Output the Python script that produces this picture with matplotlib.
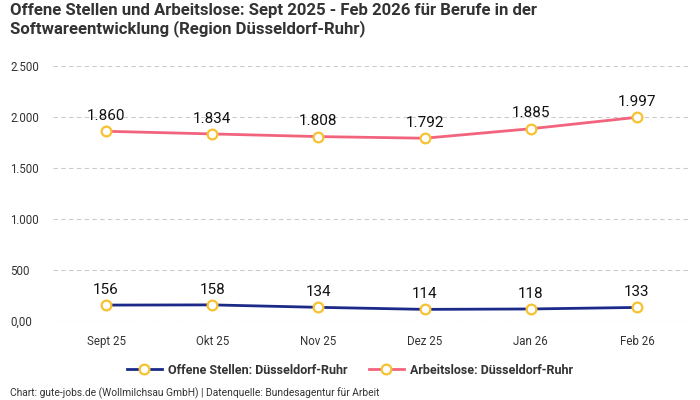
import matplotlib.pyplot as plt
from matplotlib.ticker import FixedLocator, FixedFormatter

months = ['Sept 25', 'Okt 25', 'Nov 25', 'Dez 25', 'Jan 26', 'Feb 26']
offene_stellen = [156, 158, 134, 114, 118, 133]
arbeitslose = [1860, 1834, 1808, 1792, 1885, 1997]
y_ticks = [0, 500, 1000, 1500, 2000, 2500]
y_labels = ['0,00', '500', '1.000', '1.500', '2.000', '2.500']

plt.rcParams['font.family'] = ['Roboto', 'DejaVu Sans']

blue = '#1b2a88'
pink = '#f2647e'
yellow = '#f7c22f'


def fmt(v):
    return '{:,}'.format(v).replace(',', '.')


fig = plt.figure(figsize=(7, 4), dpi=100)
ax = fig.add_axes([53 / 700, 1 - 321 / 400, 637 / 700, 255 / 400])

x = list(range(len(months)))
ax.plot(x, offene_stellen, color=blue, lw=2, marker='o', markersize=7,
        markerfacecolor='white', markeredgecolor=yellow, markeredgewidth=1.6,
        label='Offene Stellen: Düsseldorf-Ruhr', zorder=3)
ax.plot(x, arbeitslose, color=pink, lw=2, marker='o', markersize=7,
        markerfacecolor='white', markeredgecolor=yellow, markeredgewidth=1.6,
        label='Arbeitslose: Düsseldorf-Ruhr', zorder=3)

for xi, v in zip(x, offene_stellen):
    ax.annotate(fmt(v), (xi, v), xytext=(0, 6), textcoords='offset points',
                ha='center', va='bottom', fontsize=11, color='#111111')
for xi, v in zip(x, arbeitslose):
    ax.annotate(fmt(v), (xi, v), xytext=(0, 6), textcoords='offset points',
                ha='center', va='bottom', fontsize=11, color='#111111')

ax.set_xlim(-0.5, len(months) - 0.5)
ax.set_ylim(0, 2500)
ax.set_xticks(x)
ax.set_xticklabels(months)
ax.yaxis.set_major_locator(FixedLocator(y_ticks))
ax.yaxis.set_major_formatter(FixedFormatter(y_labels))
ax.tick_params(axis='both', length=0, labelsize=8.3, colors='#333333')
ax.tick_params(axis='x', pad=10)
ax.tick_params(axis='y', pad=31)
for lab in ax.get_yticklabels():
    lab.set_horizontalalignment('left')
ax.grid(axis='y', color='#cccccc', linestyle=(0, (4, 3)), lw=0.8)
for s in ax.spines.values():
    s.set_visible(False)

leg = fig.legend(loc='center', bbox_to_anchor=(0.5, 1 - 370 / 400), ncol=2,
                 frameon=False, prop={'weight': 'bold', 'size': 9},
                 handlelength=2.8, handletextpad=0.5, columnspacing=1.7,
                 labelcolor='#333333')

fig.text(10 / 700, 1 - 3 / 400,
         'Offene Stellen und Arbeitslose: Sept 2025 - Feb 2026 für Berufe in der\nSoftwareentwicklung (Region Düsseldorf-Ruhr)',
         ha='left', va='top', fontsize=12.1, fontweight='bold', color='#333333',
         linespacing=1.15)
fig.text(10 / 700, 1 - 393 / 400,
         'Chart: gute-jobs.de (Wollmilchsau GmbH) | Datenquelle: Bundesagentur für Arbeit',
         ha='left', va='center', fontsize=7.4, color='#333333')

fig.savefig('out.png', dpi=100)
